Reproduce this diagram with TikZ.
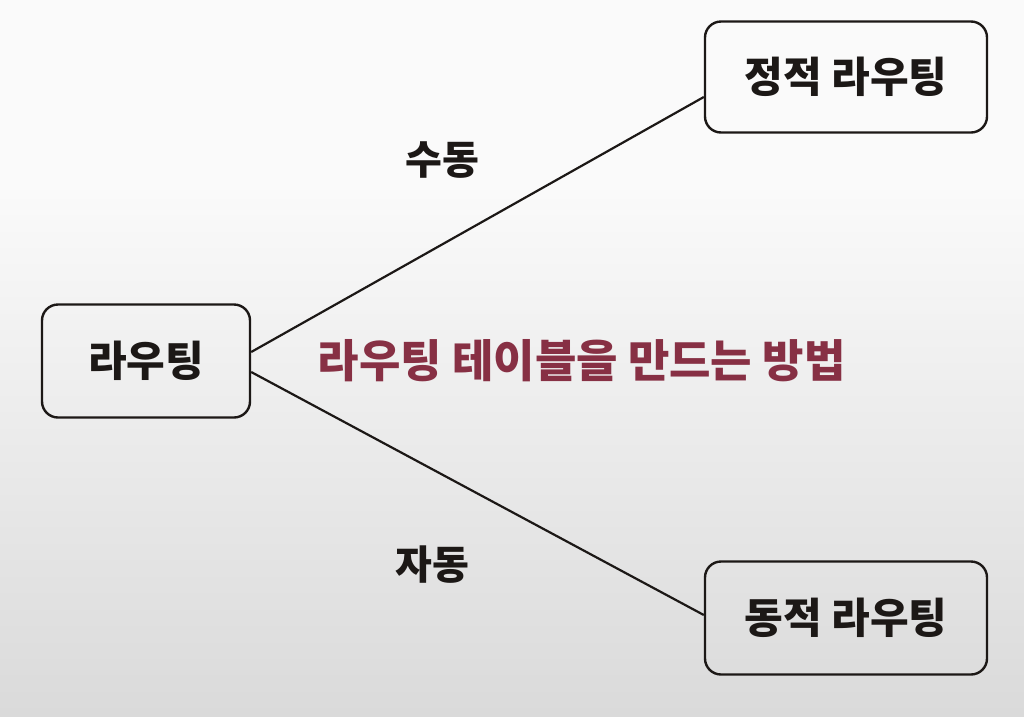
\documentclass[tikz,border=0pt]{standalone}
\usepackage{fontspec}
\setmainfont{Noto Sans CJK KR}
\usepackage{xcolor}
\definecolor{inkdark}{RGB}{28,24,22}
\definecolor{inkred}{RGB}{135,48,68}
\definecolor{bgtop}{RGB}{250,250,250}
\definecolor{bgbot}{RGB}{218,218,218}
\usepackage{tikz}
\usetikzlibrary{positioning}
\tikzset{
  box/.style={draw=inkdark,line width=2.4pt,rounded corners=16pt,align=center,text=inkdark,font=\fontsize{42}{48}\selectfont\bfseries},
  tag/.style={text=inkdark,font=\fontsize{40}{46}\selectfont\bfseries},
  link/.style={draw=inkdark,line width=2.2pt},
}
\begin{document}
\begin{tikzpicture}[x=1pt,y=-1pt]
% background
\fill[bgtop] (0,0) rectangle (1024,190);
\shade[top color=bgtop,bottom color=bgbot] (0,190) rectangle (1024,716);
\useasboundingbox (0,0) rectangle (1024,716);
% boxes
\node[box,minimum width=208pt,minimum height=113pt] (routing) at (146,361) {라우팅};
\node[box,minimum width=282pt,minimum height=111pt] (static) at (846,77) {정적 라우팅};
\node[box,minimum width=282pt,minimum height=113pt] (dynamic) at (846,618) {동적 라우팅};
% links
\draw[link] ([yshift=9pt]routing.east) -- ([yshift=-20pt]static.west);
\draw[link] ([yshift=-11pt]routing.east) -- ([yshift=3pt]dynamic.west);
% labels
\node[tag] (manual) at (442,160) {수동};
\node[tag] (auto) at (432,565) {자동};
\node[tag,text=inkred,font=\fontsize{45}{50}\selectfont\bfseries,right=63pt of routing] (howto) {라우팅 테이블을 만드는 방법};
\end{tikzpicture}
\end{document}
